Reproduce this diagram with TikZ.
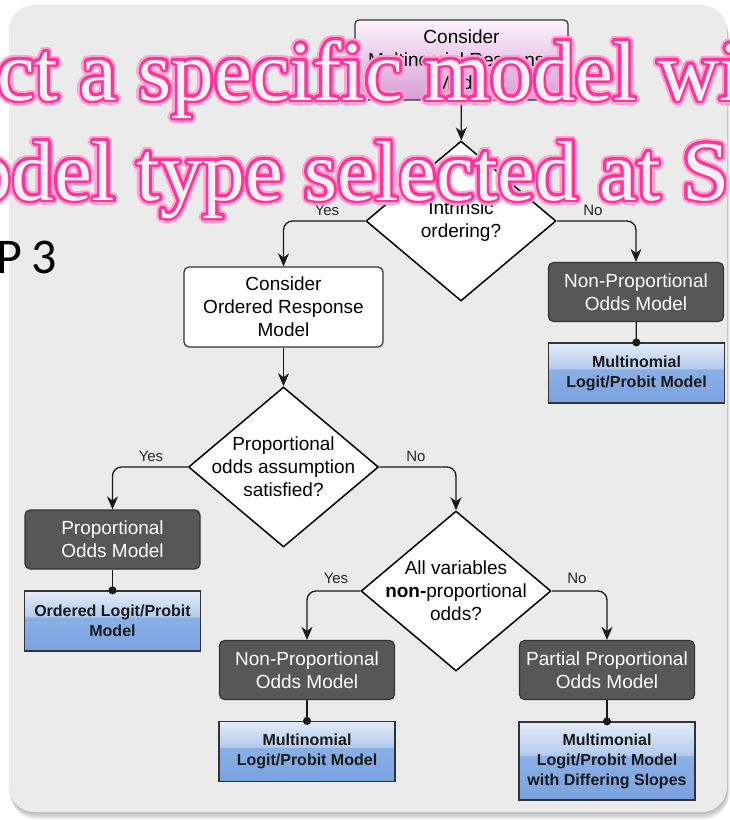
\documentclass[tikz,border=0pt]{standalone}
\usepackage{fontspec}
\setmainfont{Liberation Sans}
\newfontfamily\slidefont{Liberation Serif}
\newfontfamily\stepfont{Carlito}
\usepackage[copies]{contour}
\usetikzlibrary{shapes.geometric,arrows.meta}

\definecolor{slidegray}{HTML}{EBEBEB}
\definecolor{edgegray}{HTML}{333333}
\definecolor{modelgray}{HTML}{575757}
\definecolor{pinktop}{HTML}{FBF4FB}
\definecolor{pinkbot}{HTML}{D89CD8}
\definecolor{bluetop}{HTML}{E3ECF9}
\definecolor{bluemid}{HTML}{B5CBEE}
\definecolor{bluelow}{HTML}{8AB0E6}
\definecolor{bluebot}{HTML}{79A2DF}
\definecolor{glowpink}{HTML}{FF3399}
\definecolor{glowsoft}{HTML}{FFA3D1}
\definecolor{glowwhite}{HTML}{F6F2F4}

\pgfdeclareverticalshading{glossblue}{100bp}{color(0bp)=(bluebot); color(25bp)=(bluebot); color(53bp)=(bluelow); color(54bp)=(bluemid); color(75bp)=(bluetop); color(100bp)=(bluetop)}

\contournumber{32}
% soft outer glow, then the strong inner one
\newcommand\glowline[1]{\rlap{\contourlength{5pt}\contour{glowsoft}{#1}}\contourlength{2.6pt}\contour{glowpink}{#1}}

\begin{document}
\begin{tikzpicture}[x=1pt,y=-1pt,
    txt/.style={font=\fontsize{19}{23}\selectfont, align=center},
    startbox/.style={txt, draw=edgegray, line width=1.2pt, rounded corners=4pt,
      top color=pinktop, bottom color=pinkbot, minimum width=213pt, minimum height=80pt},
    plainbox/.style={txt, draw=edgegray, line width=1.2pt, rounded corners=5pt,
      fill=white, minimum width=199pt, minimum height=80pt},
    modelbox/.style={txt, draw=edgegray, line width=1.2pt, rounded corners=5pt,
      fill=modelgray, text=white, minimum width=175pt, minimum height=59pt},
    resultbox/.style={draw=edgegray, line width=1.2pt, shading=glossblue,
      font=\bfseries\fontsize{16}{20}\selectfont, align=center, text=black!90,
      minimum width=176pt, minimum height=60pt, inner sep=0pt},
    decision/.style={diamond, draw=black, fill=white, line width=1.5pt, line join=round,
      minimum width=190pt, minimum height=160pt, inner sep=0pt},
    qtext/.style={txt, inner sep=0pt},
    answer/.style={font=\fontsize{15}{18}\selectfont, text=black!85},
    headline/.style={anchor=base west, inner sep=0pt, text=glowwhite,
      font=\slidefont\fontsize{85}{92}\selectfont},
    arr/.style={draw=black!90, line width=1.3pt, rounded corners=9pt,
      -{Stealth[length=13pt,width=11pt,inset=4pt]}},
    dotline/.style={draw=black!90, line width=1.3pt, -{Circle[length=8pt]}, shorten >=-4pt}]
  \clip (0,0) rectangle (730,820);
  \fill[white] (0,0) rectangle (730,820);

  % slide panel with its shadow
  \foreach \s in {1,2,3,4}
    \fill[black, opacity=0.07, rounded corners=25pt] (9+\s*0.5,5+\s*1.8) rectangle (727+\s*0.5,812+\s*1.8);
  \fill[slidegray, rounded corners=25pt] (9,5) rectangle (727,812);

  % first question
  \node[startbox] (cmr) at (461.5,60) {Consider\\Multinomial Response\\Model};
  \node[decision, label={[qtext]center:{Intrinsic\\ordering?}}] (intr) at (461,221) {};
  \node[plainbox] (cor) at (283.5,307) {Consider\\Ordered Response\\Model};
  \node[modelbox] (npo1) at (636,292) {Non-Proportional\\Odds Model};
  \node[resultbox] (mlp1) at (636.5,373) {Multinomial\\Logit/Probit Model};

  % ordered branch
  \node[decision, label={[qtext]center:{Proportional\\odds assumption\\satisfied?}}] (prop) at (283.5,467) {};
  \node[modelbox] (pom) at (112.5,539.5) {Proportional\\Odds Model};
  \node[resultbox] (olp) at (112.5,621) {Ordered Logit/Probit\\Model};

  % non-proportional branch
  \node[decision, label={[qtext]center:{All variables\\\textbf{non-}proportional\\odds?}}] (allv) at (456,591) {};
  \node[modelbox] (npo2) at (307,670) {Non-Proportional\\Odds Model};
  \node[resultbox] (mlp2) at (307,751.5) {Multinomial\\Logit/Probit Model};
  \node[modelbox] (ppo) at (607,670) {Partial Proportional\\Odds Model};
  \node[resultbox, minimum height=78pt] (mds) at (607,761) {Multimonial\\Logit/Probit Model\\with Differing Slopes};

  % connectors
  \draw[arr] (cmr) -- (intr);
  \draw[arr] (intr.west) -| (cor.north);
  \draw[arr] (intr.east) -| (npo1.north);
  \draw[dotline] (npo1) -- (mlp1);
  \draw[arr] (cor) -- (prop);
  \draw[arr] (prop.west) -| (pom.north);
  \draw[arr] (prop.east) -| (allv.north);
  \draw[dotline] (pom) -- (olp);
  \draw[arr] (allv.west) -| (npo2.north);
  \draw[arr] (allv.east) -| (ppo.north);
  \draw[dotline] (npo2) -- (mlp2);
  \draw[dotline] (ppo) -- (mds);

  % yes / no
  \node[answer] (yes1) at (327,210) {Yes};
  \node[answer] (no1) at (593,210) {No};
  \node[answer] (yes2) at (151,456) {Yes};
  \node[answer] (no2) at (416,456) {No};
  \node[answer] (yes3) at (336,578) {Yes};
  \node[answer] (no3) at (577,578) {No};

  % slide text on top
  \node[anchor=base east, inner sep=0pt, font=\stepfont\fontsize{50}{60}\selectfont] (step) at (57,273) {\spaceskip=9pt\relax P 3};
  \node[headline] (head1) at (-3,100) {\glowline{ct a specific model wi}};
  \node[headline] (head2) at (-31,200) {\glowline{odel type selected at S}};
\end{tikzpicture}
\end{document}
